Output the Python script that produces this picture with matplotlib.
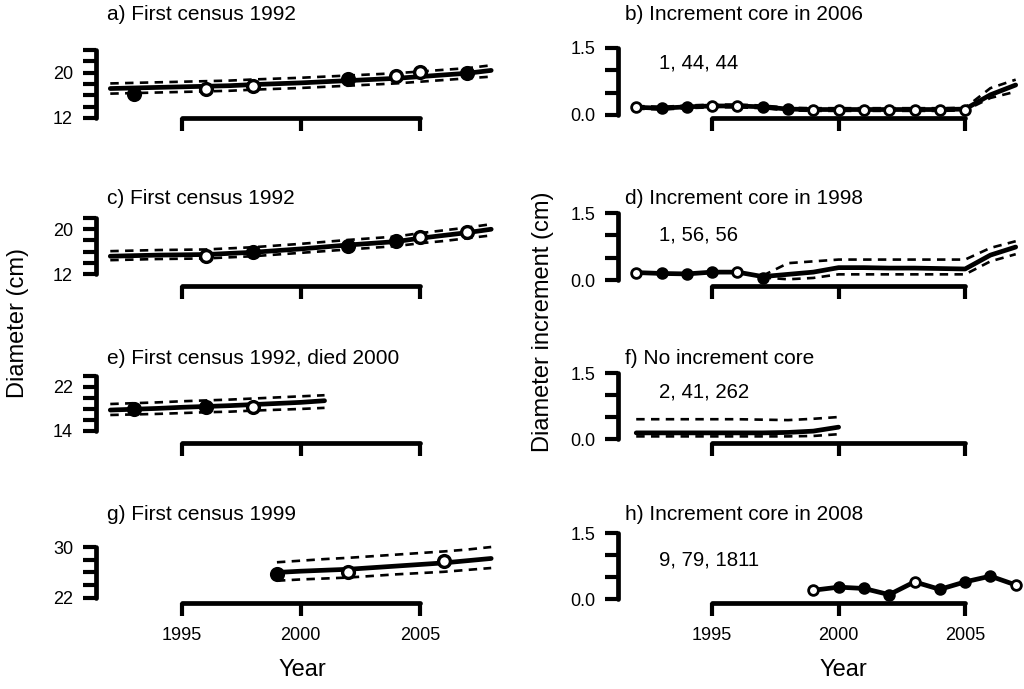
import numpy as np
import matplotlib
matplotlib.use('Agg')
import matplotlib.pyplot as plt

plt.rcParams['font.family'] = ['Liberation Sans', 'DejaVu Sans']

W, H = 1024, 689

# ---------------- data ----------------
# a) First census 1992
yr_a = np.arange(1992, 2009)
mean_a = [17.2, 17.3, 17.4, 17.5, 17.6, 17.7, 17.9, 18.05, 18.2, 18.4, 18.6, 18.8, 19.0, 19.3, 19.6, 19.9, 20.4]
up_a = [18.1, 18.2, 18.3, 18.4, 18.5, 18.6, 18.8, 18.95, 19.1, 19.3, 19.5, 19.7, 19.9, 20.2, 20.5, 20.8, 21.3]
lo_a = [16.3, 16.4, 16.5, 16.6, 16.7, 16.8, 17.0, 17.15, 17.3, 17.5, 17.7, 17.9, 18.1, 18.4, 18.7, 19.0, 19.3]
pt_yr_a = [1993, 1996, 1998, 2002, 2004, 2005, 2007]
pt_a = [16.2, 17.1, 17.6, 18.9, 19.4, 20.2, 20.0]
fill_a = [True, False, False, True, False, False, True]

# c) First census 1992
yr_c = np.arange(1992, 2009)
mean_c = [15.2, 15.3, 15.4, 15.45, 15.5, 15.7, 15.9, 16.2, 16.5, 16.85, 17.2, 17.5, 17.8, 18.4, 18.9, 19.4, 20.0]
up_c = [16.1, 16.2, 16.3, 16.35, 16.4, 16.6, 16.8, 17.1, 17.4, 17.75, 18.1, 18.4, 18.7, 19.3, 19.8, 20.3, 20.9]
lo_c = [14.5, 14.6, 14.7, 14.75, 14.8, 15.0, 15.2, 15.5, 15.8, 16.1, 16.4, 16.7, 17.0, 17.5, 17.9, 18.4, 18.9]
pt_yr_c = [1996, 1998, 2002, 2004, 2005, 2007]
pt_c = [15.2, 15.9, 17.0, 17.9, 18.6, 19.5]
fill_c = [False, True, True, True, False, False]

# e) First census 1992, died 2000
yr_e = np.arange(1992, 2002)
mean_e = [17.8, 17.95, 18.1, 18.3, 18.45, 18.6, 18.8, 19.0, 19.2, 19.5]
up_e = [18.9, 19.05, 19.2, 19.4, 19.55, 19.7, 19.9, 20.1, 20.3, 20.5]
lo_e = [16.9, 17.0, 17.1, 17.25, 17.4, 17.5, 17.7, 17.85, 18.0, 18.2]
pt_yr_e = [1993, 1996, 1998]
pt_e = [18.0, 18.3, 18.4]
fill_e = [True, True, False]

# g) First census 1999
yr_g = np.arange(1999, 2009)
mean_g = [26.0, 26.2, 26.35, 26.5, 26.75, 27.0, 27.25, 27.5, 27.85, 28.2]
up_g = [27.6, 27.85, 28.1, 28.3, 28.55, 28.8, 29.05, 29.3, 29.6, 30.0]
lo_g = [24.7, 24.9, 25.05, 25.2, 25.45, 25.7, 25.9, 26.1, 26.4, 26.7]
pt_yr_g = [1999, 2002, 2006]
pt_g = [25.8, 26.1, 27.8]
fill_g = [True, False, False]

# b) Increment core in 2006
yr_b = np.arange(1992, 2008)
mean_b = [0.17, 0.15, 0.18, 0.20, 0.20, 0.18, 0.13, 0.12, 0.12, 0.12, 0.12, 0.12, 0.12, 0.13, 0.45, 0.67]
up_b = [0.20, 0.18, 0.21, 0.23, 0.23, 0.21, 0.16, 0.15, 0.15, 0.15, 0.15, 0.15, 0.15, 0.16, 0.60, 0.79]
lo_b = [0.14, 0.12, 0.15, 0.17, 0.17, 0.15, 0.10, 0.09, 0.09, 0.09, 0.09, 0.09, 0.09, 0.10, 0.38, 0.52]
pt_yr_b = np.arange(1992, 2006)
pt_b = [0.17, 0.15, 0.18, 0.20, 0.20, 0.18, 0.13, 0.12, 0.12, 0.12, 0.12, 0.12, 0.12, 0.12]
fill_b = [False, True, True, False, False, True, True, False, False, False, False, False, False, False]

# d) Increment core in 1998
yr_d = np.arange(1992, 2008)
mean_d = [0.17, 0.15, 0.14, 0.18, 0.18, 0.08, 0.13, 0.18, 0.28, 0.28, 0.27, 0.27, 0.26, 0.25, 0.56, 0.74]
yr_d_ci = np.arange(1997, 2008)
up_d = [0.10, 0.38, 0.42, 0.46, 0.46, 0.46, 0.46, 0.46, 0.46, 0.72, 0.87]
lo_d = [0.06, 0.02, 0.05, 0.13, 0.13, 0.13, 0.13, 0.13, 0.13, 0.42, 0.58]
pt_yr_d = np.arange(1992, 1998)
pt_d = [0.17, 0.15, 0.14, 0.18, 0.18, 0.05]
fill_d = [False, True, True, True, False, True]

# f) No increment core
yr_f = np.arange(1992, 2001)
mean_f = [0.14, 0.14, 0.14, 0.14, 0.14, 0.14, 0.15, 0.18, 0.27]
up_f = [0.45, 0.45, 0.45, 0.45, 0.45, 0.44, 0.43, 0.46, 0.50]
lo_f = [0.06, 0.06, 0.06, 0.06, 0.06, 0.06, 0.06, 0.07, 0.11]

# h) Increment core in 2008
yr_h = np.arange(1999, 2008)
mean_h = [0.20, 0.27, 0.24, 0.10, 0.39, 0.22, 0.39, 0.52, 0.32]
fill_h = [False, True, True, True, False, True, True, True, False]

titles = ['a) First census 1992', 'b) Increment core in 2006',
          'c) First census 1992', 'd) Increment core in 1998',
          'e) First census 1992, died 2000', 'f) No increment core',
          'g) First census 1999', 'h) Increment core in 2008']
counts = ['1, 44, 44', '1, 56, 56', '2, 41, 262', '9, 79, 1811']
count_y = [1.16, 1.0, 1.07, 0.89]

# ---------------- layout (pixels) ----------------
row_bottom = [118, 286, 443, 603]
left_top = [50, 218, 376, 547]
right_top = [48, 213, 373, 533]
left_ylim = [(12, 24), (9.9, 22), (11.8, 24), (21.2, 30)]
left_yticks = [np.arange(12, 25, 2), np.arange(12, 23, 2), np.arange(14, 25, 2), np.arange(22, 31, 2)]
left_ylab = [(12, 20), (12, 20), (14, 22), (22, 30)]
right_ylim = [(-0.07, 1.5), (-0.13, 1.5), (-0.09, 1.5), (-0.09, 1.5)]
title_y = [15, 198, 358, 515]

fig = plt.figure(figsize=(W / 100, H / 100), dpi=100)


def add_panel(l, r, t, b):
    return fig.add_axes([l / W, 1 - b / H, (r - l) / W, (b - t) / H])


def style(ax, yticks, ylabs, fmt, bottom_row, pad):
    for s in ['top', 'right']:
        ax.spines[s].set_visible(False)
    ax.spines['left'].set_bounds(yticks[0], yticks[-1])
    ax.spines['bottom'].set_bounds(1995, 2005)
    for s in ['left', 'bottom']:
        ax.spines[s].set_linewidth(3.4)
        ax.spines[s].set_capstyle('round')
    ax.set_yticks(yticks)
    ax.set_yticklabels([fmt(v) if v in ylabs else '' for v in yticks])
    ax.set_xticks([1995, 2000, 2005])
    if bottom_row:
        ax.set_xticklabels(['1995', '2000', '2005'])
    else:
        ax.set_xticklabels(['', '', ''])
    ax.tick_params(direction='out', length=9.5, width=3.0, labelsize=13)
    ax.tick_params(axis='y', pad=pad)
    ax.tick_params(axis='x', pad=8)
    ax.patch.set_visible(False)


def draw_series(ax, x, mean, up=None, lo=None, xci=None, lw=3.4):
    ax.plot(x, mean, color='black', lw=lw, solid_capstyle='round', clip_on=False, zorder=3)
    if up is not None:
        xx = x if xci is None else xci
        ax.plot(xx, up, color='black', lw=1.9, dashes=(3.2, 2.4), clip_on=False, zorder=2)
        ax.plot(xx, lo, color='black', lw=1.9, dashes=(3.2, 2.4), clip_on=False, zorder=2)


def draw_points(ax, x, y, filled, ms, mew):
    for xi, yi, f in zip(x, y, filled):
        ax.plot([xi], [yi], marker='o', ms=ms, mew=mew, mec='black',
                mfc='black' if f else 'white', ls='none', clip_on=False, zorder=4)


left_data = [
    (yr_a, mean_a, up_a, lo_a, pt_yr_a, pt_a, fill_a),
    (yr_c, mean_c, up_c, lo_c, pt_yr_c, pt_c, fill_c),
    (yr_e, mean_e, up_e, lo_e, pt_yr_e, pt_e, fill_e),
    (yr_g, mean_g, up_g, lo_g, pt_yr_g, pt_g, fill_g),
]

for i, (x, m, u, lo, px, py, pf) in enumerate(left_data):
    ax = add_panel(96, 500, left_top[i], row_bottom[i])
    ax.set_xlim(1991.4, 2008.37)
    ax.set_ylim(*left_ylim[i])
    style(ax, left_yticks[i], left_ylab[i], lambda v: '%d' % v, i == 3, 7)
    draw_series(ax, x, m, u, lo)
    draw_points(ax, px, py, pf, 8.5, 2.4)
    fig.text(107 / W, 1 - title_y[i] / H, titles[2 * i], fontsize=15, va='center', ha='left')

right_axes = []
for i in range(4):
    ax = add_panel(618, 1020, right_top[i], row_bottom[i])
    ax.set_xlim(1991.28, 2007.17)
    ax.set_ylim(*right_ylim[i])
    style(ax, [0, 0.5, 1.0, 1.5], (0, 1.5), lambda v: '%.1f' % v, i == 3, 7)
    ax.text(1992.9, count_y[i], counts[i], fontsize=14.7, ha='left', va='center')
    fig.text(625 / W, 1 - title_y[i] / H, titles[2 * i + 1], fontsize=15, va='center', ha='left')
    right_axes.append(ax)

ax_b, ax_d, ax_f, ax_h = right_axes
draw_series(ax_b, yr_b, mean_b, up_b, lo_b)
draw_points(ax_b, pt_yr_b, pt_b, fill_b, 7, 2.0)
draw_series(ax_d, yr_d, mean_d, up_d, lo_d, xci=yr_d_ci)
draw_points(ax_d, pt_yr_d, pt_d, fill_d, 7, 2.0)
draw_series(ax_f, yr_f, mean_f, up_f, lo_f)
draw_series(ax_h, yr_h, mean_h)
draw_points(ax_h, yr_h, mean_h, fill_h, 7, 2.0)

fig.text(18 / W, 1 - 323 / H, 'Diameter (cm)', rotation=90, fontsize=17, ha='center', va='center')
fig.text(543 / W, 1 - 322 / H, 'Diameter increment (cm)', rotation=90, fontsize=17, ha='center', va='center')
fig.text(302 / W, 1 - 670 / H, 'Year', fontsize=17, ha='center', va='center')
fig.text(843 / W, 1 - 670 / H, 'Year', fontsize=17, ha='center', va='center')

fig.savefig('out.png', dpi=100)
